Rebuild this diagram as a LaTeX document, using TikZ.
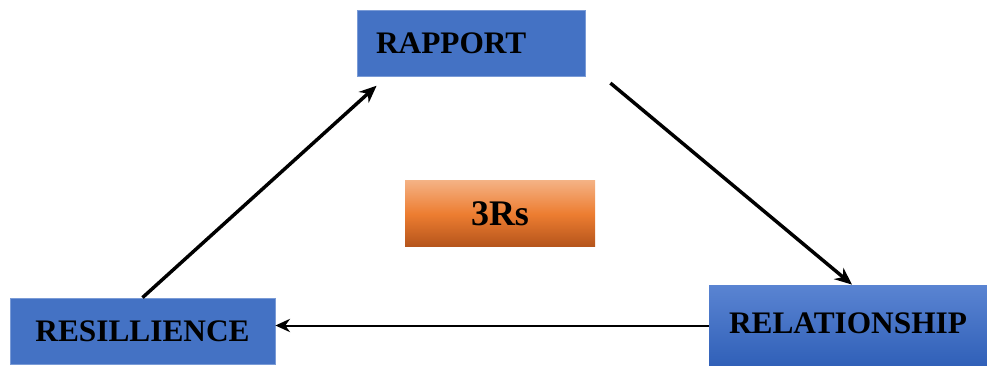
\documentclass[tikz,border=0pt]{standalone}
\usepackage{fontspec}
\setmainfont{Liberation Serif}
\usetikzlibrary{arrows.meta}
\definecolor{boxblue}{HTML}{4472C4}
\definecolor{boxedge}{HTML}{7A9BD6}
\definecolor{reltop}{HTML}{5A84D2}
\definecolor{relbot}{HTML}{3060B8}
\definecolor{ortop}{HTML}{F4B183}
\definecolor{ormid}{HTML}{ED7D31}
\definecolor{orbot}{HTML}{B4541B}
\tikzset{
  bluebox/.style={fill=boxblue, draw=boxedge, line width=0.6pt, inner sep=0pt,
    font=\fontsize{23.5}{28}\selectfont\bfseries, text=black},
  arr/.style={line width=2.6pt, -{Stealth[length=13pt,width=11pt]}},
  arrthin/.style={line width=1.5pt, -{Stealth[length=11pt,width=10pt]}}
}
\begin{document}
\begin{tikzpicture}[x=0.75pt,y=-0.75pt]
\useasboundingbox (0,0) rectangle (987,366);
\node[bluebox, minimum width=171pt, minimum height=49.5pt, text width=142.5pt, align=left]
  (rap) at (471,43) {RAPPORT};
\node[bluebox, minimum width=198.75pt, minimum height=49.5pt]
  (res) at (142.5,331) {RESILLIENCE};
\node[bluebox, draw=none, top color=reltop, bottom color=relbot, minimum width=208.5pt, minimum height=60.75pt]
  (rel) at (848,325.5) {\raisebox{3pt}{RELATIONSHIP}};
\node[inner sep=0pt, top color=ortop, bottom color=orbot, middle color=ormid,
  minimum width=142.5pt, minimum height=49.5pt,
  font=\fontsize{27}{32}\selectfont\bfseries] (core) at (500,214) {3Rs};
\draw[arr] (res.north) -- ([xshift=15pt,yshift=-7pt]rap.south west);
\draw[arr] ([xshift=18.75pt,yshift=-5pt]rap.south east) -- ([xshift=3pt]rel.north);
\draw[arrthin] (rel.west) -- (res.east |- rel.west);
\end{tikzpicture}
\end{document}
